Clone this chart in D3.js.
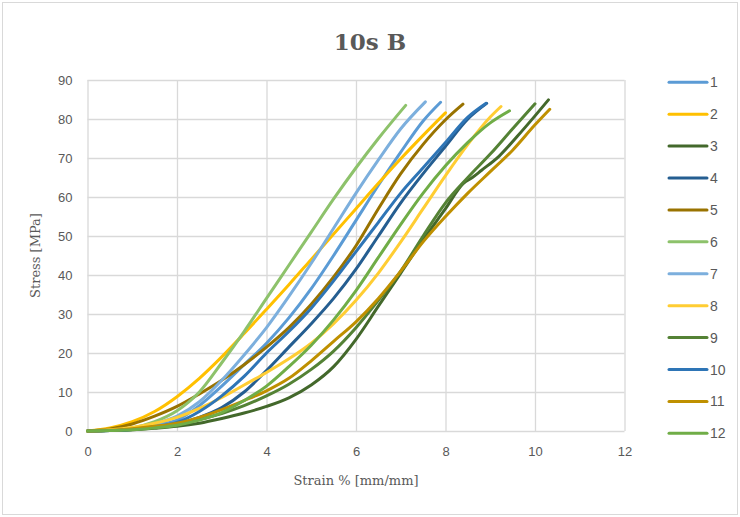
<!DOCTYPE html>
<html>
<head>
<meta charset="utf-8">
<script src="https://cdn.jsdelivr.net/npm/d3@7"></script>
<style>
  html, body { margin: 0; padding: 0; background: #fff; }
  svg { display: block; }
</style>
</head>
<body>
<div id="chart"></div>
<script>
// ---- Data ----
const seriesNames = ["1","2","3","4","5","6","7","8","9","10","11","12"];
const seriesColors = ["#5B9BD5","#FFC000","#43682B","#255E91","#997300","#8DC26B",
                      "#7CAFDD","#FFCD33","#548235","#2E75B6","#BF9000","#70AD47"];

const strain1 = [0,0.5,1,1.5,2,2.5,3,3.5,4,4.5,5,5.5,6,6.5,7,7.5,7.89];
const stress1 = [0,0.2,0.6,1.5,2.8,6.5,11.5,17,22.5,29,36.5,45,54,63,71.5,79.5,84.3];

const strain2 = [0,0.5,1,1.5,2,2.5,3,3.5,4,4.5,5,5.5,6,6.5,7,7.5,8.0];
const stress2 = [0,0.8,2.4,5,8.8,13.5,19,25,31.2,37.5,44,50.5,57,63.5,69.8,75.8,81.6];

const strain3 = [0,0.5,1,1.5,2,2.5,3,3.5,4,4.5,5,5.5,6,6.5,7,7.5,8,8.4,8.6,8.8,9.2,9.6,10,10.3];
const stress3 = [0,0.1,0.3,0.7,1.2,2,3.2,4.6,6.3,8.5,11.8,16.5,23.5,32,40.5,49,57,63.5,65,66.8,70.5,75.5,80.8,84.9];

const strain4 = [0,0.5,1,1.5,2,2.5,3,3.5,4,4.5,5,5.5,6,6.5,7,7.5,8,8.5,8.92];
const stress4 = [0,0.1,0.4,1,1.8,3.5,6,10,15.5,21.5,27.5,34,41.5,50,58.5,66,73,80,84];

const strain5 = [0,0.5,1,1.5,2,2.5,3,3.5,4,4.5,5,5.5,6,6.5,7,7.5,8,8.39];
const stress5 = [0,0.5,1.8,3.8,6.3,9.5,13,17,21.5,26.5,32.5,39.5,47.5,57,66,73.5,79.8,83.8];

const strain6 = [0,0.5,1,1.5,2,2.5,3,3.5,4,4.5,5,5.5,6,6.5,7.11];
const stress6 = [0,0.2,0.8,2.4,5.2,10,17.5,25.5,34,42.5,51,59.5,67.5,75,83.5];

const strain7 = [0,0.5,1,1.5,2,2.5,3,3.5,4,4.5,5,5.5,6,6.5,7,7.55];
const stress7 = [0,0.2,0.6,1.8,3.8,7.5,13,19.5,26.5,34.5,43,52,61,69.5,77.5,84.4];

const strain8 = [0,0.5,1,1.5,2,2.5,3,3.5,4,4.5,5,5.5,6,6.5,7,7.5,8,8.5,9,9.24];
const stress8 = [0,0.3,0.9,2,3.5,5.8,8.6,11.8,15,18.5,22.5,27.5,33.5,40.5,48.5,57,65.5,73.5,80.5,83.2];

const strain9 = [0,0.5,1,1.5,2,2.5,3,3.5,4,4.5,5,5.5,6,6.5,7,7.5,8,8.5,9,9.5,10];
const stress9 = [0,0.1,0.4,1,1.8,3,4.5,6.5,9,12,15.8,20.5,26.5,33.5,41,50,58.5,65,71,77.5,83.9];

const strain10 = [0,0.5,1,1.5,2,2.5,3,3.5,4,4.5,5,5.5,6,6.5,7,7.5,8,8.5,8.9];
const stress10 = [0,0.1,0.4,1.1,2.2,5,9,14,20,25.5,31.5,38.5,46,53.5,61,67.5,74,80.5,84];

const strain11 = [0,0.5,1,1.5,2,2.5,3,3.5,4,4.5,5,5.5,6,6.5,7,7.5,8,8.5,9,9.5,10,10.33];
const stress11 = [0,0.2,0.6,1.2,2,3.5,5.5,7.8,10.3,13.5,18,23,28,34,41,48.5,55,61,66.5,72,78.5,82.5];

const strain12 = [0,0.5,1,1.5,2,2.5,3,3.5,4,4.5,5,5.5,6,6.5,7,7.5,8,8.5,9,9.43];
const stress12 = [0,0.1,0.3,0.8,1.5,2.8,4.7,7.8,11.5,16.5,22,28.5,36,44.5,53,61,68,74,79,82.1];

const xTicks = [0,2,4,6,8,10,12];
const yTicks = [0,10,20,30,40,50,60,70,80,90];
const titleText = "10s B";
const xTitle = "Strain % [mm/mm]";
const yTitle = "Stress [MPa]";

const strains = [strain1,strain2,strain3,strain4,strain5,strain6,strain7,strain8,strain9,strain10,strain11,strain12];
const stresses = [stress1,stress2,stress3,stress4,stress5,stress6,stress7,stress8,stress9,stress10,stress11,stress12];
const series = seriesNames.map((name, i) => ({
  name, color: seriesColors[i],
  points: strains[i].map((x, j) => [x, stresses[i][j]])
}));

// ---- Layout ----
const W = 740, H = 517;
const plot = { left: 87.5, right: 624.5, top: 80, bottom: 431 };
const textColor = "#595959";
const gridColor = "#D9D9D9";

const svg = d3.select("#chart").append("svg").attr("width", W).attr("height", H);

svg.append("rect").attr("x", 2.5).attr("y", 2.5).attr("width", W - 5).attr("height", H - 5)
  .attr("fill", "#fff").attr("stroke", gridColor).attr("stroke-width", 1);

const x = d3.scaleLinear().domain([0, 12]).range([plot.left, plot.right]);
const y = d3.scaleLinear().domain([0, 90]).range([plot.bottom, plot.top]);

const xAxis = d3.axisBottom(x).tickValues(xTicks).tickFormat(d3.format("d"))
  .tickSizeInner(-(plot.bottom - plot.top)).tickSizeOuter(0).tickPadding(16);
const gx = svg.append("g").attr("transform", `translate(0,${plot.bottom})`).call(xAxis);
gx.select(".domain").remove();
gx.selectAll(".tick line").attr("stroke", gridColor).attr("stroke-width", 1.3);
gx.selectAll(".tick text").attr("fill", textColor)
  .style("font-family", "'Liberation Sans', Arial, sans-serif").style("font-size", "13px");

const yAxis = d3.axisLeft(y).tickValues(yTicks).tickFormat(d3.format("d"))
  .tickSizeInner(-(plot.right - plot.left)).tickSizeOuter(0).tickPadding(15);
const gy = svg.append("g").attr("transform", `translate(${plot.left},0)`).call(yAxis);
gy.select(".domain").remove();
gy.selectAll(".tick line").attr("stroke", gridColor).attr("stroke-width", 1.3);
gy.selectAll(".tick text").attr("fill", textColor)
  .style("font-family", "'Liberation Sans', Arial, sans-serif").style("font-size", "13px");

// Curves
const line = d3.line().x(d => x(d[0])).y(d => y(d[1])).curve(d3.curveMonotoneX);
svg.append("g").selectAll("path").data(series).join("path")
  .attr("d", d => line(d.points))
  .attr("fill", "none")
  .attr("stroke", d => d.color)
  .attr("stroke-width", 3)
  .attr("stroke-linecap", "round")
  .attr("stroke-linejoin", "round");

// Title
svg.append("text").attr("x", 370).attr("y", 50).attr("text-anchor", "middle")
  .attr("fill", textColor).style("font-family", "'DejaVu Serif', serif")
  .style("font-weight", "bold").style("font-size", "23px").text(titleText);

// Axis titles
svg.append("text").attr("x", (plot.left + plot.right) / 2).attr("y", 485).attr("text-anchor", "middle")
  .attr("fill", textColor).style("font-family", "'DejaVu Serif', serif").style("font-size", "13px")
  .text(xTitle);
svg.append("text").attr("transform", `translate(40,${(plot.top + plot.bottom) / 2}) rotate(-90)`)
  .attr("text-anchor", "middle").attr("fill", textColor)
  .style("font-family", "'DejaVu Serif', serif").style("font-size", "13px").text(yTitle);

// Legend
const legend = svg.append("g");
const legendY = d3.scaleLinear().domain([0, 11]).range([82.3, 433.3]);
const items = legend.selectAll("g").data(series).join("g")
  .attr("transform", (d, i) => `translate(0,${legendY(i)})`);
items.append("line").attr("x1", 669).attr("x2", 707).attr("y1", 0).attr("y2", 0)
  .attr("stroke", d => d.color).attr("stroke-width", 3).attr("stroke-linecap", "round");
items.append("text").attr("x", 710).attr("y", 0).attr("dy", "0.36em")
  .attr("fill", textColor).style("font-family", "'Liberation Sans', Arial, sans-serif")
  .style("font-size", "14px").text(d => d.name);
</script>
</body>
</html>
